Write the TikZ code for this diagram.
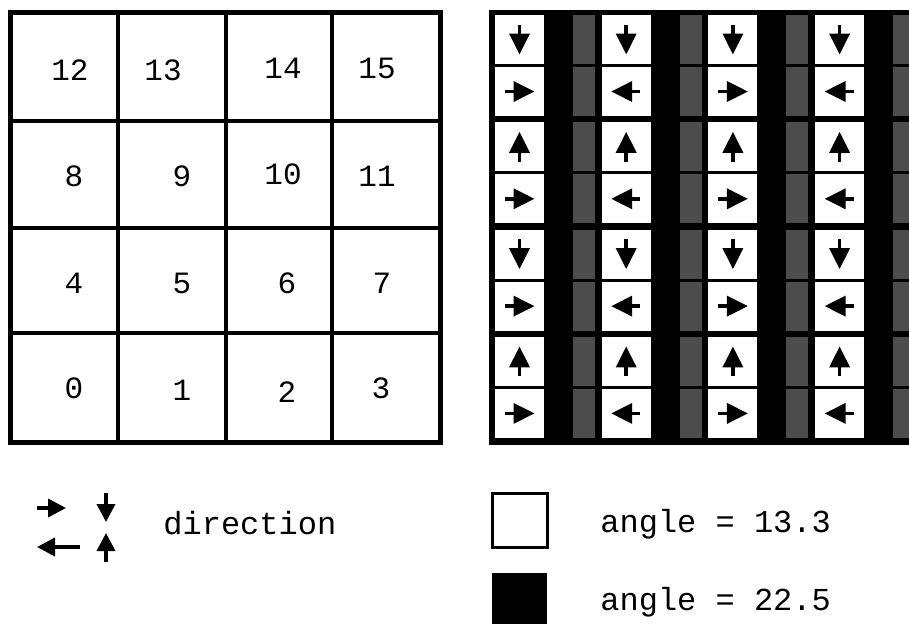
\documentclass[tikz,border=0pt]{standalone}
\usepackage{fontspec}
\setmonofont{Liberation Mono}
\usetikzlibrary{arrows.meta}
\tikzset{
  gridln/.style  ={line width=2pt},
  frameln/.style ={line width=2.5pt},
  num/.style     ={font=\ttfamily\fontsize{15.5}{18}\selectfont, inner sep=0pt},
  keytxt/.style  ={font=\ttfamily\fontsize{16}{19}\selectfont, inner sep=0pt, anchor=base west},
  wcell/.style   ={fill=white, minimum width=24.5pt, minimum height=24.5pt, inner sep=0pt},
  halftone/.style={fill=black!70},
  dirarr/.style  ={-{Triangle[length=10.5pt, width=10pt]}, line width=1.8pt},
  keyarr/.style  ={-{Triangle[length=9pt, width=9pt]}, line width=1.8pt},
  keybox/.style  ={minimum width=27.5pt, minimum height=27pt, inner sep=0pt},
}

\begin{document}
\begin{tikzpicture}[x=0.5pt, y=-0.5pt]
  \useasboundingbox (0,0) rectangle (909,623);
  \clip (0,0) rectangle (909,623);
  % numbered grid
  \foreach \gx in {118,226,332} \draw[gridln] (\gx,12) -- (\gx,442);
  \foreach \gy in {121,228,333} \draw[gridln] (10,\gy) -- (440,\gy);
  \draw[frameln] (10,12) rectangle (440,442);
  \foreach \n/\px/\py in {12/70/70, 13/163/70, 14/283/68, 15/377/68,
                          8/74/176, 9/182/176, 10/283/174, 11/377/176,
                          4/74/283, 5/182/283, 6/287/283, 7/382/283,
                          0/74/388, 1/182/390, 2/287/392, 3/381/388}
    \node[num] (n\n) at (\px,\py) {\n};
  % angle map
  \fill[black] (489,10) rectangle (909,445);
  \foreach \p in {0,...,3}{
    \foreach \h in {0,1}{
      \pgfmathsetmacro\ytop{15+107.3*\p+52*\h}
      \foreach \c in {0,...,3}{
        \pgfmathsetmacro\xl{495+106.7*\c}
        \fill[halftone] (\xl+78,\ytop) rectangle ++(22,49);
        \node[wcell] (w\p\h\c) at (\xl+24.5,\ytop+24.5) {};
        \ifnum\h=0
          \ifodd\p
            \draw[dirarr] ([yshift=-7.5pt]w\p\h\c.center) -- ([yshift=7.5pt]w\p\h\c.center);
          \else
            \draw[dirarr] ([yshift=7.5pt]w\p\h\c.center) -- ([yshift=-7.5pt]w\p\h\c.center);
          \fi
        \else
          \ifodd\c
            \draw[dirarr] ([xshift=7pt]w\p\h\c.center) -- ([xshift=-7.5pt]w\p\h\c.center);
          \else
            \draw[dirarr] ([xshift=-7.5pt]w\p\h\c.center) -- ([xshift=7.5pt]w\p\h\c.center);
          \fi
        \fi
      }
    }
  }
  % key
  \coordinate (kr0) at (37,508);  \coordinate (kr1) at (66,508);
  \coordinate (kl0) at (80,547);  \coordinate (kl1) at (37,547);
  \coordinate (kd0) at (106,493); \coordinate (kd1) at (106,522);
  \coordinate (ku0) at (106,562); \coordinate (ku1) at (106,533);
  \draw[keyarr] (kr0) -- (kr1);
  \draw[keyarr] (kl0) -- (kl1);
  \draw[keyarr] (kd0) -- (kd1);
  \draw[keyarr] (ku0) -- (ku1);
  \node[keytxt] (dirlab) at (163,534) {direction};
  \node[keybox, draw, line width=1.5pt, fill=white] (wkey) at (519.5,520) {};
  \node[keybox, fill=black] (bkey) at (519,600) {};
  \node[keytxt] (lab13) at (600,532) {angle = 13.3};
  \node[keytxt] (lab22) at (600,610) {angle = 22.5};
\end{tikzpicture}
\end{document}
